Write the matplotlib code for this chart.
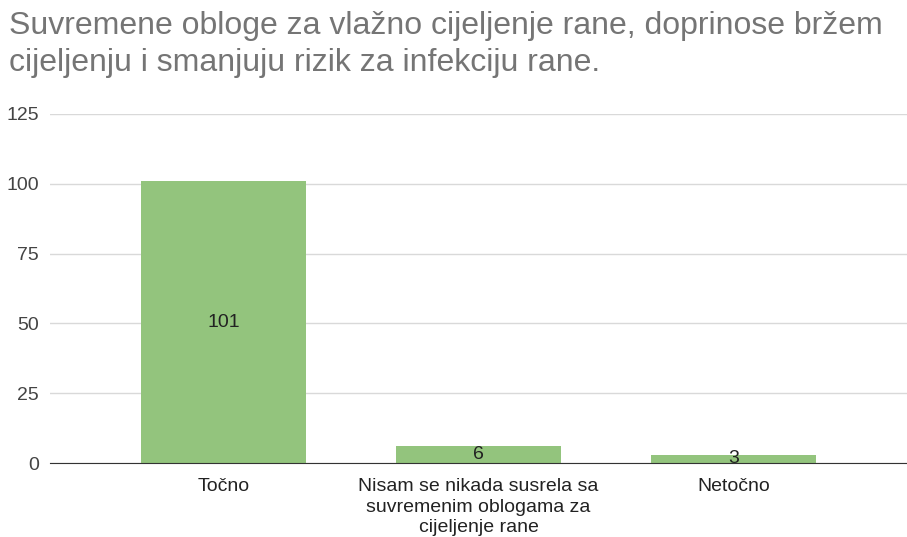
import matplotlib
matplotlib.use('Agg')
import matplotlib.pyplot as plt

title = 'Suvremene obloge za vlažno cijeljenje rane, doprinose bržem\ncijeljenju i smanjuju rizik za infekciju rane.'
categories = ['Točno', 'Nisam se nikada susrela sa\nsuvremenim oblogama za\ncijeljenje rane', 'Netočno']
values = [101, 6, 3]
yticks = [0, 25, 50, 75, 100, 125]

plt.rcParams['font.family'] = ['Liberation Sans', 'DejaVu Sans']

fig = plt.figure(figsize=(9.07, 5.37), dpi=100)
ax = fig.add_axes([50/907, 1-463/537, 1-50/907, (463-114)/537])

x = range(len(values))
ax.bar(x, values, width=0.646, color='#93c47d', zorder=2)
for i, v in enumerate(values):
    ax.text(i, v/2, str(v), ha='center', va='center', fontsize=14, color='#222222', zorder=5)

ax.set_xlim(-0.68, 2.68)
ax.set_ylim(0, 125)
ax.set_yticks(yticks)
ax.set_xticks(list(x))
ax.set_xticklabels(categories, fontsize=14, color='#222222', linespacing=1.25)
ax.tick_params(axis='y', labelsize=14, labelcolor='#444444', length=0, pad=8)
ax.tick_params(axis='x', length=0, pad=11)
ax.grid(axis='y', color='#d9d9d9', linewidth=1, zorder=0)
for s in ['top', 'right', 'left']:
    ax.spines[s].set_visible(False)
ax.spines['bottom'].set_color('#333333')
ax.spines['bottom'].set_zorder(4)

fig.text(9/907, 1-11/537, title, ha='left', va='top', fontsize=23, color='#757575', linespacing=1.3)

fig.savefig('out.png', dpi=100)
